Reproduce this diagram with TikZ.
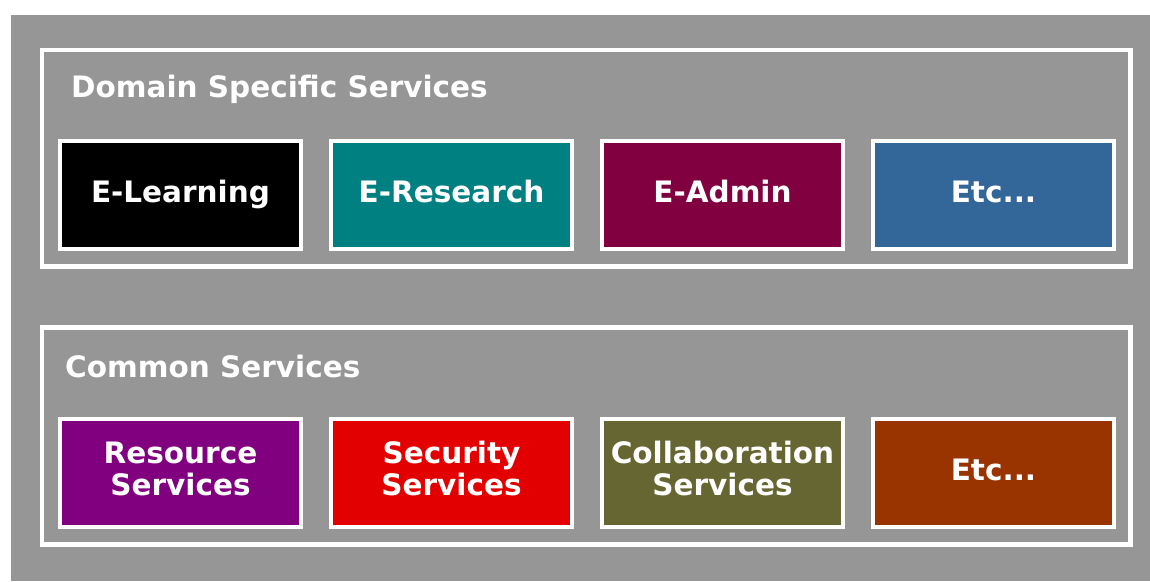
\documentclass[tikz,border=0pt]{standalone}
\usepackage{fontspec}
\setmainfont{DejaVu Sans}
\definecolor{bggray}{RGB}{150,150,150}
\definecolor{cteal}{RGB}{0,128,128}
\definecolor{cadmin}{RGB}{128,0,64}
\definecolor{cblue}{RGB}{51,102,153}
\definecolor{cpurple}{RGB}{128,0,128}
\definecolor{cred}{RGB}{226,0,0}
\definecolor{colive}{RGB}{102,102,51}
\definecolor{cbrown}{RGB}{153,51,0}
\begin{document}
\begin{tikzpicture}[x=1pt,y=-1pt,
  frame/.style={draw=white,line width=4.5pt},
  svcbox/.style={draw=white,line width=4pt,rectangle,inner sep=0pt,
    minimum width=241pt,minimum height=108pt,text=white,align=center,
    text height=22pt,text depth=7pt,
    font=\fontsize{29.5}{32}\selectfont\bfseries},
  twoline/.style={anchor=base,inner sep=0pt,text=white,align=center,
    font=\fontsize{29.5}{32}\selectfont\bfseries},
  title/.style={anchor=base west,inner sep=0pt,text=white,
    font=\fontsize{29.5}{34}\selectfont\bfseries}]
\useasboundingbox (0,0) rectangle (1150,581);
\fill[white] (0,0) rectangle (1150,581);
\fill[bggray] (11,15) rectangle (1150,581);
\draw[frame] (42,50) rectangle (1130.5,266.5);
\draw[frame] (42,327.5) rectangle (1130.5,544.5);
\node[title] (t1) at (71,97) {Domain Specific Services};
\node[title] (t2) at (65,377) {Common Services};
\node[svcbox,fill=black]  (el) at (180.5,194.5) {E-Learning};
\node[svcbox,fill=cteal]  (er) at (451.5,194.5) {E-Research};
\node[svcbox,fill=cadmin] (ea) at (722.5,194.5) {E-Admin};
\node[svcbox,fill=cblue]  (e1) at (993.5,194.5) {Etc...};
\node[svcbox,fill=cpurple] (rs) at (180.5,473) {};
\node[svcbox,fill=cred]    (ss) at (451.5,473) {};
\node[svcbox,fill=colive]  (cs) at (722.5,473) {};
\node[svcbox,fill=cbrown]  (e2) at (993.5,473) {Etc...};
\node[twoline] (rst) at (180.5,495) {Resource\\Services};
\node[twoline] (sst) at (451.5,495) {Security\\Services};
\node[twoline] (cst) at (722.5,495) {Collaboration\\Services};
\end{tikzpicture}
\end{document}
